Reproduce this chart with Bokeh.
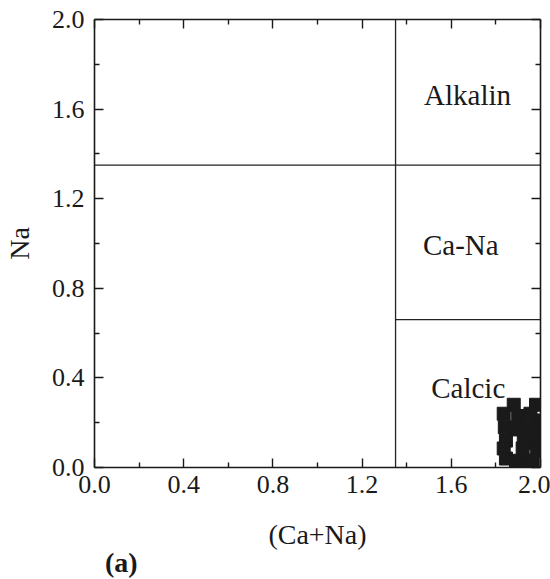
from bokeh.plotting import figure
from bokeh.models import LinearAxis, Range1d, FixedTicker, PrintfTickFormatter, Div
from bokeh.layouts import column
from bokeh.core.properties import value
from bokeh.embed import file_html
from bokeh.resources import INLINE

# Sample points: (Ca+Na) vs Na
ca_na = [1.88, 1.98, 1.835, 1.90, 1.955, 1.995, 1.84, 1.94, 1.89, 1.985,
         1.845, 1.925, 1.97, 1.835, 1.92, 1.985, 1.845, 1.89, 1.94, 1.965]
na = [0.28, 0.28, 0.24, 0.23, 0.24, 0.21, 0.18, 0.18, 0.17, 0.155,
      0.12, 0.135, 0.11, 0.085, 0.085, 0.075, 0.04, 0.03, 0.03, 0.03]

# Field boundaries
bound_x0 = [1.35, 0.0, 1.35]
bound_y0 = [0.0, 1.35, 0.66]
bound_x1 = [1.35, 2.0, 2.0]
bound_y1 = [2.0, 1.35, 0.66]

# Field labels
field_names = ["Alkalin", "Ca-Na", "Calcic"]
field_x = [1.478, 1.473, 1.51]
field_y = [1.665, 0.995, 0.353]

ticks = [0.0, 0.4, 0.8, 1.2, 1.6, 2.0]
minor = [0.2, 0.6, 1.0, 1.4, 1.8]
FONT = "Liberation Serif"

p = figure(width=550, height=556, output_backend="svg", toolbar_location=None,
           x_range=Range1d(0, 2.0), y_range=Range1d(0, 2.0),
           min_border_left=92, min_border_right=10, min_border_top=19,
           min_border_bottom=89)
p.xgrid.visible = False
p.ygrid.visible = False
p.outline_line_color = None
p.background_fill_color = "white"
p.border_fill_color = "white"

p.segment(x0=bound_x0, y0=bound_y0, x1=bound_x1, y1=bound_y1,
          line_color="#222222", line_width=1.3)

p.scatter(ca_na, na, marker="square", size=13, fill_color="#1a1a1a",
          line_color="#1a1a1a")

p.text(x=field_x, y=field_y, text=field_names, text_font=value(FONT),
       text_font_size="29px", text_align="left", text_baseline="middle",
       text_color="#1a1a1a")

def style(ax, labels=True):
    ax.ticker = FixedTicker(ticks=ticks, minor_ticks=minor)
    ax.formatter = PrintfTickFormatter(format="%.1f")
    ax.major_tick_in = 9
    ax.major_tick_out = 0
    ax.minor_tick_in = 5
    ax.minor_tick_out = 0
    ax.axis_line_width = 1.6
    ax.axis_line_color = "#1a1a1a"
    ax.major_tick_line_color = "#1a1a1a"
    ax.minor_tick_line_color = "#1a1a1a"
    ax.major_tick_line_width = 1.4
    ax.minor_tick_line_width = 1.4
    ax.major_label_text_font = FONT
    ax.major_label_text_font_size = "26px"
    ax.major_label_text_color = "#1a1a1a"
    ax.axis_label_text_font = FONT
    ax.axis_label_text_font_size = "28px"
    ax.axis_label_text_font_style = "normal"
    ax.axis_label_text_color = "#1a1a1a"
    if not labels:
        ax.major_label_overrides = {t: "" for t in ticks}
        ax.major_label_standoff = 0

p.xaxis.axis_label = "(Ca+Na)"
p.yaxis.axis_label = "Na"
style(p.xaxis[0])
style(p.yaxis[0])
p.xaxis[0].major_label_standoff = 8
p.xaxis[0].axis_label_standoff = 23
p.yaxis[0].major_label_standoff = 10
p.yaxis[0].axis_label_standoff = 14

top = LinearAxis()
style(top, labels=False)
p.add_layout(top, "above")
right = LinearAxis()
style(right, labels=False)
p.add_layout(right, "right")

panel_label = Div(
    text=('<div style="position:relative; top:-13px; margin-left:100px; '
          'font-family:\'Liberation Serif\', serif; font-weight:bold; '
          'font-size:28px; line-height:30px; color:#1a1a1a;">(a)</div>'),
    width=550, height=23)

layout = column(p, panel_label, spacing=0)

open("out.html", "w").write(file_html(layout, INLINE))
